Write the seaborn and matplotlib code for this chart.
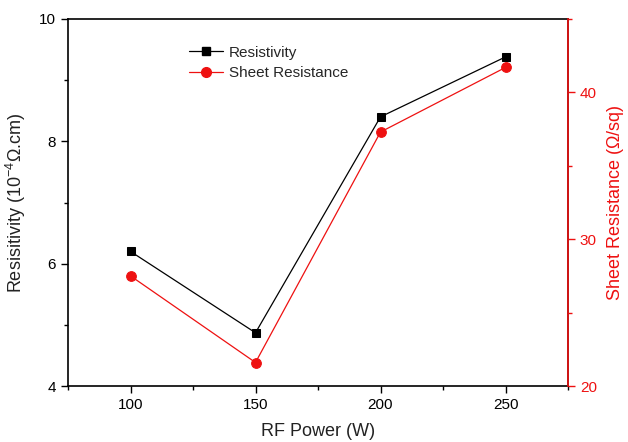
import matplotlib
matplotlib.use("Agg")
import matplotlib.pyplot as plt
import seaborn as sns
import pandas as pd
from matplotlib.ticker import MultipleLocator
from matplotlib.lines import Line2D

rf_power = [100, 150, 200, 250]
resistivity = [6.2, 4.87, 8.4, 9.38]
sheet_resistance = [27.5, 21.6, 37.3, 41.7]

sns.set_theme(style="white")
plt.rcParams['font.family'] = ['Liberation Sans', 'DejaVu Sans']
plt.rcParams['mathtext.fontset'] = 'custom'
plt.rcParams['mathtext.rm'] = 'Liberation Sans'

RED = "#ee1111"
df = pd.DataFrame({"power": rf_power, "res": resistivity, "sheet": sheet_resistance})

fig = plt.figure(figsize=(6.28, 4.42), dpi=100)
ax = fig.add_axes([68/628, 56/442, 500/628, 367/442])
ax2 = ax.twinx()

sns.lineplot(data=df, x="power", y="res", ax=ax, color="black", marker="s",
             markersize=6, markeredgecolor="black", linewidth=0.9)
sns.lineplot(data=df, x="power", y="sheet", ax=ax2, color=RED, marker="o",
             markersize=7, markeredgecolor=RED, linewidth=0.9)

ax.set_xlim(75, 275)
ax.set_ylim(4, 10)
ax2.set_ylim(20, 45)

ax.xaxis.set_major_locator(MultipleLocator(50))
ax.xaxis.set_minor_locator(MultipleLocator(25))
ax.yaxis.set_major_locator(MultipleLocator(2))
ax.yaxis.set_minor_locator(MultipleLocator(1))
ax2.yaxis.set_major_locator(MultipleLocator(10))
ax2.yaxis.set_minor_locator(MultipleLocator(5))

for sp in ax.spines.values():
    sp.set_color("black")
    sp.set_linewidth(1.2)
ax2.spines['right'].set_color(RED)
ax2.spines['right'].set_linewidth(1.2)
for s in ['left', 'top', 'bottom']:
    ax2.spines[s].set_visible(False)

ax.tick_params(axis='both', which='both', direction='out', bottom=True, left=True,
               top=False, right=False, colors='black', labelsize=11)
ax.tick_params(which='major', length=5, width=1)
ax.tick_params(which='minor', length=3, width=1)
ax2.tick_params(axis='y', which='both', direction='out', right=True, colors=RED,
                labelcolor=RED, labelsize=11)
ax2.tick_params(which='major', length=5, width=1)
ax2.tick_params(which='minor', length=3, width=1)

ax.set_xlabel("RF Power (W)", fontsize=13, color="#222222", labelpad=8)
ax.set_ylabel(r"Resisitivity (10$^{-4}$$\Omega$.cm)", fontsize=13, color="#222222", labelpad=8)
ax2.set_ylabel(r"Sheet Resistance ($\Omega$/sq)", fontsize=13, color=RED, labelpad=6)

handles = [Line2D([], [], color="black", marker="s", markersize=6, linewidth=0.9),
           Line2D([], [], color=RED, marker="o", markersize=7, linewidth=0.9)]
ax.legend(handles, ["Resistivity", "Sheet Resistance"], loc="upper left",
          bbox_to_anchor=(0.215, 0.965), frameon=False, fontsize=11,
          handlelength=2.2, handletextpad=0.4, labelspacing=0.45)
ax2.set_zorder(ax.get_zorder() + 1)
ax.patch.set_visible(True)
ax2.patch.set_visible(False)

fig.savefig("out.png", dpi=100)
